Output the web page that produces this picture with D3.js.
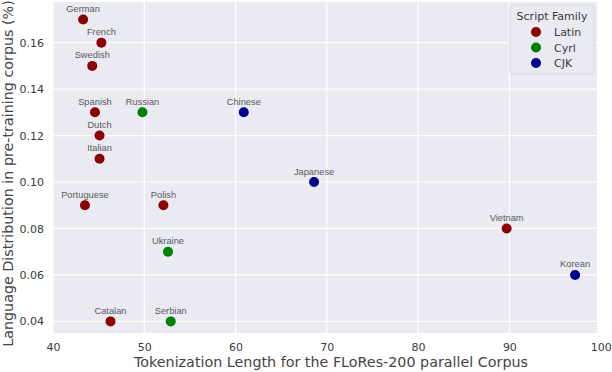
<!DOCTYPE html>
<html>
<head>
<meta charset="utf-8">
<script src="https://cdn.jsdelivr.net/npm/d3@7"></script>
<style>
  body { margin: 0; background: #fff; }
  svg { display: block; }
</style>
</head>
<body>
<script>
// values
let languages = ["German", "French", "Swedish", "Spanish", "Russian", "Dutch", "Italian", "Chinese",
                 "Portuguese", "Polish", "Japanese", "Ukraine", "Vietnam", "Korean", "Catalan", "Serbian"];
let tokenLength = [43.3, 45.3, 44.3, 44.6, 49.8, 45.1, 45.1, 60.9,
                   43.5, 52.1, 68.6, 52.6, 89.7, 97.2, 46.3, 52.9];
let distribution = [0.17, 0.16, 0.15, 0.13, 0.13, 0.12, 0.11, 0.13,
                    0.09, 0.09, 0.10, 0.07, 0.08, 0.06, 0.04, 0.04];
let family = ["Latin", "Latin", "Latin", "Latin", "Cyrl", "Latin", "Latin", "CJK",
              "Latin", "Latin", "CJK", "Cyrl", "Latin", "CJK", "Latin", "Cyrl"];
let families = ["Latin", "Cyrl", "CJK"];
let familyColors = ["#8b0000", "#008000", "#00008b"];
let xTicks = [40, 50, 60, 70, 80, 90, 100];
let yTicks = [0.04, 0.06, 0.08, 0.10, 0.12, 0.14, 0.16];

let width = 612;
let height = 372;
let plotLeft = 53, plotRight = 597, plotTop = 2, plotBottom = 333;

let svg = d3.select("body")
            .append("svg")
            .attr("width", width)
            .attr("height", height)
            .style("font-family", "DejaVu Sans, sans-serif");

let x = d3.scaleLinear().domain([40, 99.6]).range([plotLeft, plotRight]);
let y = d3.scaleLinear().domain([0.035, 0.1775]).range([plotBottom, plotTop]);
let color = d3.scaleOrdinal().domain(families).range(familyColors);

// background
svg.append("rect")
    .attr("x", plotLeft)
    .attr("y", plotTop)
    .attr("width", plotRight - plotLeft)
    .attr("height", plotBottom - plotTop)
    .style("fill", "#eaeaf2");

// grid
let grid = svg.append("g");
grid.selectAll(".gx")
    .data(xTicks.filter(t => x(t) <= plotRight))
    .join("line")
    .attr("x1", d => x(d)).attr("x2", d => x(d))
    .attr("y1", plotTop).attr("y2", plotBottom)
    .style("stroke", "#fff").style("stroke-width", 1.2);
grid.selectAll(".gy")
    .data(yTicks)
    .join("line")
    .attr("x1", plotLeft).attr("x2", plotRight)
    .attr("y1", d => y(d)).attr("y2", d => y(d))
    .style("stroke", "#fff").style("stroke-width", 1.2);

// axes
let xAxis = svg.append("g")
    .attr("transform", `translate(0,${plotBottom})`)
    .call(d3.axisBottom(x).tickValues(xTicks).tickSize(0).tickPadding(10).tickFormat(d3.format("d")));
let yAxis = svg.append("g")
    .attr("transform", `translate(${plotLeft},0)`)
    .call(d3.axisLeft(y).tickValues(yTicks).tickSize(0).tickPadding(9).tickFormat(d3.format(".2f")));
[xAxis, yAxis].forEach(a => {
    a.select(".domain").remove();
    a.selectAll("text")
        .style("font-family", "DejaVu Sans, sans-serif")
        .style("font-size", "11px")
        .style("fill", "#3a3a3a");
});

// axis titles
svg.append("text")
    .attr("x", 331)
    .attr("y", 367)
    .attr("text-anchor", "middle")
    .style("font-family", "DejaVu Sans, sans-serif")
    .style("font-size", "14.3px")
    .style("fill", "#444")
    .text("Tokenization Length for the FLoRes-200 parallel Corpus");
svg.append("text")
    .attr("transform", `translate(13,${(plotTop + plotBottom) / 2 + 6}) rotate(-90)`)
    .attr("text-anchor", "middle")
    .style("font-family", "DejaVu Sans, sans-serif")
    .style("font-size", "14.3px")
    .style("fill", "#444")
    .text("Language Distribution in pre-training corpus (%)");

// points
let data = languages.map((name, i) => ({
    name: name, x: tokenLength[i], y: distribution[i], family: family[i]
}));
let pts = svg.append("g");
pts.selectAll("circle")
    .data(data)
    .join("circle")
    .attr("cx", d => x(d.x))
    .attr("cy", d => y(d.y))
    .attr("r", 5)
    .style("fill", d => color(d.family));
pts.selectAll("text")
    .data(data)
    .join("text")
    .attr("x", d => x(d.x))
    .attr("y", d => y(d.y) - 7.5)
    .attr("text-anchor", "middle")
    .style("font-family", "Liberation Sans, Arial, sans-serif")
    .style("font-size", "9.3px")
    .style("fill", "#5a5a5a")
    .text(d => d.name);

// legend
let legend = svg.append("g").attr("transform", "translate(510,5)");
legend.append("rect")
    .attr("width", 84)
    .attr("height", 69)
    .attr("rx", 3)
    .style("fill", "#eaeaf2")
    .style("stroke", "#d6d6dc")
    .style("stroke-width", 1);
legend.append("text")
    .attr("x", 42)
    .attr("y", 15)
    .attr("text-anchor", "middle")
    .style("font-size", "11px")
    .style("fill", "#3a3a3a")
    .text("Script Family");
let items = legend.selectAll(".item")
    .data(families)
    .join("g")
    .attr("transform", (d, i) => `translate(0,${27 + i * 15.5})`);
items.append("circle")
    .attr("cx", 26)
    .attr("cy", 0)
    .attr("r", 5)
    .style("fill", d => color(d));
items.append("text")
    .attr("x", 44)
    .attr("y", 4)
    .style("font-size", "11px")
    .style("fill", "#3a3a3a")
    .text(d => d);
</script>
</body>
</html>
